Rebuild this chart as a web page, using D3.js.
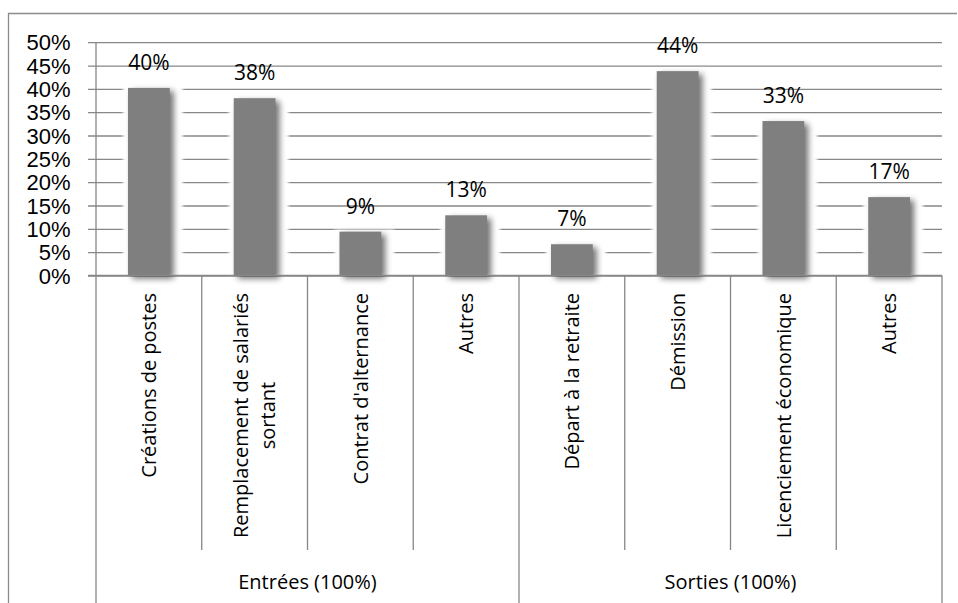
<!DOCTYPE html>
<html>
<head>
<meta charset="utf-8">
<script src="https://cdn.jsdelivr.net/npm/d3@7"></script>
<style>
  html, body { margin: 0; padding: 0; background: #fff; }
  svg { display: block; }
</style>
</head>
<body>
<svg id="chart" width="958" height="603"></svg>
<script>
// Motifs d'entrées et de sorties du personnel (part de chaque motif)
const categories = [
  "Créations de postes",
  "Remplacement de salariés sortant",
  "Contrat d'alternance",
  "Autres",
  "Départ à la retraite",
  "Démission",
  "Licenciement économique",
  "Autres"
];
const values = [0.402, 0.380, 0.094, 0.129, 0.067, 0.438, 0.331, 0.168];
const groups = ["Entrées (100%)", "Sorties (100%)"];
const groupSizes = [4, 4];
const yTicks = [0, 0.05, 0.10, 0.15, 0.20, 0.25, 0.30, 0.35, 0.40, 0.45, 0.50];

const svg = d3.select("#chart");
const W = 958, H = 603;
const plot = { left: 96, right: 942, top: 42.2, bottom: 275.5 };
const innerDividerBottom = 550;
const gridColor = "#878787";
const labelFont = "'Open Sans', 'Noto Sans', sans-serif";

const keys = categories.map((c, i) => i);
const x = d3.scaleBand().domain(keys).range([plot.left, plot.right]).padding(0);
const y = d3.scaleLinear().domain([0, 0.5]).range([plot.bottom, plot.top]);
const barW = x.bandwidth() * 0.395;

// Filters: soft white halo behind each bar and a blurred drop shadow
const defs = svg.append("defs");
defs.append("filter").attr("id", "halo")
  .attr("x", "-50%").attr("y", "-50%").attr("width", "200%").attr("height", "200%")
  .append("feGaussianBlur").attr("stdDeviation", 1.6);
defs.append("filter").attr("id", "shadow")
  .attr("x", "-50%").attr("y", "-50%").attr("width", "200%").attr("height", "200%")
  .append("feGaussianBlur").attr("stdDeviation", 3.2);

// Chart frame (top and left edges)
svg.append("path")
  .attr("d", `M8.5,${H} V13.5 H957`)
  .attr("fill", "none").attr("stroke", "#8c8c8c").attr("stroke-width", 1.3);

// Horizontal gridlines with tick marks extending left of the axis
const yAxis = d3.axisLeft(y)
  .tickValues(yTicks)
  .tickSize(-(plot.right - plot.left))
  .tickSizeOuter(0)
  .tickFormat(d3.format(".0%"));
const gAxis = svg.append("g")
  .attr("transform", `translate(${plot.left},0)`)
  .call(yAxis);
gAxis.select(".domain").remove();
gAxis.selectAll(".tick line")
  .attr("x1", -8)
  .attr("stroke", gridColor).attr("stroke-width", 1.3);
gAxis.selectAll(".tick text")
  .attr("x", -25.5)
  .attr("dy", "0.35em")
  .attr("fill", "#000")
  .style("font-family", "'Liberation Sans', Arial, sans-serif")
  .style("font-size", "22px");

// Bars: halo, shadow, then the bar itself
const bars = svg.append("g");
keys.forEach(i => {
  const bx = x(i) + (x.bandwidth() - barW) / 2;
  const by = y(values[i]);
  const bh = y(0) - by;
  bars.append("rect")
    .attr("x", bx - 5).attr("y", by - 2)
    .attr("width", barW + 18).attr("height", bh + 1)
    .attr("fill", "#fff").attr("filter", "url(#halo)");
  bars.append("rect")
    .attr("x", bx + 4).attr("y", by + 3)
    .attr("width", barW).attr("height", bh)
    .attr("fill", "#000").attr("opacity", 0.55)
    .attr("filter", "url(#shadow)");
  bars.append("rect")
    .attr("x", bx).attr("y", by)
    .attr("width", barW).attr("height", bh)
    .attr("fill", "#7f7f7f");
});

// Redraw the baseline over the shadows
svg.append("line")
  .attr("x1", plot.left - 8).attr("x2", plot.right)
  .attr("y1", plot.bottom).attr("y2", plot.bottom)
  .attr("stroke", gridColor).attr("stroke-width", 1.3);

// Value labels
svg.append("g").selectAll("text")
  .data(keys).join("text")
  .attr("x", i => x(i) + x.bandwidth() / 2)
  .attr("y", i => y(values[i]) - 18)
  .attr("text-anchor", "middle")
  .style("font-family", labelFont)
  .style("font-size", "21px")
  .attr("fill", "#000")
  .text(i => d3.format(".0%")(values[i]));

// Category dividers: short ones inside a group, long ones at group edges
const groupEdges = [0];
groupSizes.reduce((acc, n) => { groupEdges.push(acc + n); return acc + n; }, 0);
const dividers = d3.range(categories.length + 1);
svg.append("g").selectAll("line")
  .data(dividers).join("line")
  .attr("x1", k => k < categories.length ? x(k) : plot.right)
  .attr("x2", k => k < categories.length ? x(k) : plot.right)
  .attr("y1", plot.bottom)
  .attr("y2", k => groupEdges.includes(k) ? H : innerDividerBottom)
  .attr("stroke", gridColor).attr("stroke-width", 1.3);
// Y axis line
svg.append("line")
  .attr("x1", plot.left).attr("x2", plot.left)
  .attr("y1", plot.top).attr("y2", plot.bottom)
  .attr("stroke", gridColor).attr("stroke-width", 1.3);

// Rotated category labels, wrapped to fit the available height
const labelTop = 293;
const maxLen = innerDividerBottom - labelTop - 4;
const lineGap = 27;
const catG = svg.append("g");
keys.forEach(i => {
  const cx = x(i) + x.bandwidth() / 2;
  const probe = catG.append("text")
    .style("font-family", labelFont).style("font-size", "20px");
  const words = categories[i].split(" ");
  const lines = [];
  let cur = "";
  words.forEach(w => {
    const test = cur ? cur + " " + w : w;
    probe.text(test);
    if (probe.node().getComputedTextLength() > maxLen && cur) {
      lines.push(cur);
      cur = w;
    } else {
      cur = test;
    }
  });
  lines.push(cur);
  let longest = 0;
  lines.forEach(l => {
    probe.text(l);
    longest = Math.max(longest, probe.node().getComputedTextLength());
  });
  probe.remove();
  const mid = labelTop + longest / 2;
  const offset0 = -(lines.length - 1) * lineGap / 2;
  lines.forEach((l, j) => {
    catG.append("text")
      .attr("transform", `translate(${cx + offset0 + j * lineGap},${mid}) rotate(-90)`)
      .attr("text-anchor", "middle")
      .attr("dy", "0.36em")
      .style("font-family", labelFont)
      .style("font-size", "20px")
      .attr("fill", "#000")
      .text(l);
  });
});

// Group labels
let start = 0;
groups.forEach((g, gi) => {
  const first = start, last = start + groupSizes[gi] - 1;
  const gx = (x(first) + x(last) + x.bandwidth()) / 2;
  svg.append("text")
    .attr("x", gx).attr("y", 589)
    .attr("text-anchor", "middle")
    .style("font-family", labelFont)
    .style("font-size", "20px")
    .attr("fill", "#000")
    .text(g);
  start += groupSizes[gi];
});
</script>
</body>
</html>
